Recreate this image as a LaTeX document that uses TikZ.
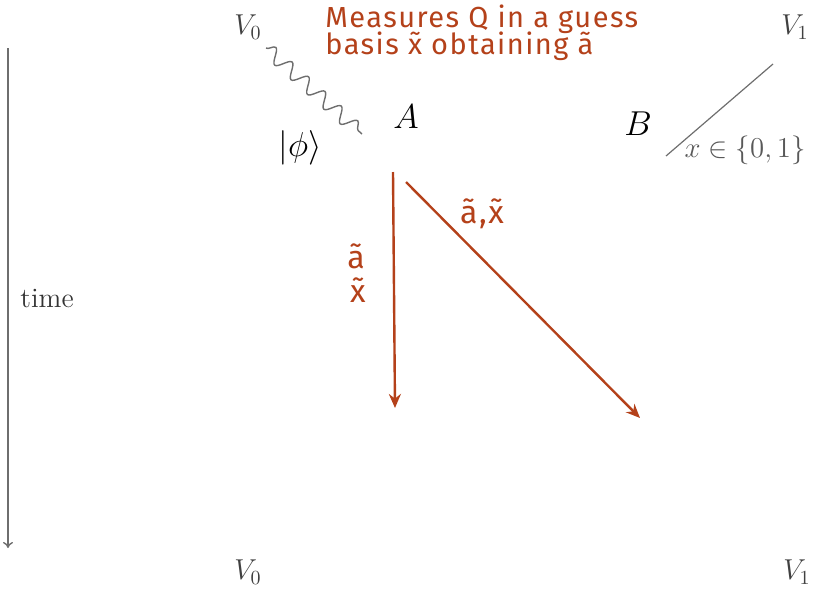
\documentclass[tikz,border=0pt]{standalone}
\usepackage{fontspec}
\newfontfamily\hand[LetterSpace=5]{Fira Sans}
\usetikzlibrary{arrows.meta,decorations.pathmorphing}
\definecolor{rust}{HTML}{B4411A}
\definecolor{gline}{HTML}{6E6E6E}
\begin{document}
\begin{tikzpicture}[x=0.5pt,y=-0.5pt,
  lbl/.style={inner sep=0pt,font=\fontsize{14}{16}\selectfont},
  big/.style={inner sep=0pt,font=\fontsize{17}{19}\selectfont},
  hw/.style={inner sep=0pt,text=rust,font=\hand\fontsize{14.5}{13}\selectfont},
  redarrow/.style={draw=rust,line width=1.2pt,-{Stealth[length=7pt,width=6pt]}},
  grayline/.style={draw=gline,line width=0.5pt}]
\useasboundingbox (0,0) rectangle (820,590);
% time axis
\coordinate (t0) at (8,48);
\coordinate (t1) at (8,548);
\draw[gline,line width=0.7pt,-{To[length=3pt,width=5pt]}] (t0) -- (t1);
\node[lbl,anchor=west,text=black!80] (time) at (20,298) {time};
% vertices
\node[lbl,text=black!75] (v0t) at (248,27) {$V_0$};
\node[lbl,text=black!75] (v1t) at (795,27) {$V_1$};
\node[lbl,text=black!75] (v0b) at (248,572) {$V_0$};
\node[lbl,text=black!75] (v1b) at (797,572) {$V_1$};
% parties
\node[big] (A) at (406,117) {$A$};
\node[big] (B) at (638,124) {$B$};
\node[big] (phi) at (300,148) {$|\phi\rangle$};
% wavy photon
\coordinate (w0) at (266,48);
\coordinate (w1) at (362,134);
\draw[grayline,line width=0.7pt,decorate,decoration={snake,amplitude=3.5pt,segment length=11pt}] (w0) -- (w1);
% classical input line
\coordinate (b0) at (666,156);
\coordinate (b1) at (773,64);
\draw[grayline,line width=0.6pt] (b0) -- (b1);
\node[lbl,text=black!65,font=\fontsize{14.5}{16}\selectfont] (xin) at (745,150) {$x\in\{0,1\}$};
% title
\node[hw,anchor=west] (title1) at (325,19) {Measures Q in a guess};
\node[hw,anchor=west] (title2) at (325,46) {basis x̃ obtaining ã};
% red arrows
\coordinate (s1) at (393,172);
\coordinate (e1) at (395,408);
\coordinate (s2) at (406,182);
\coordinate (e2) at (640,418);
\draw[redarrow] (s1) -- (e1);
\draw[redarrow] (s2) -- (e2);
\node[hw,font=\hand\fontsize{16}{16}\selectfont] (la) at (356,256) {ã};
\node[hw,font=\hand\fontsize{16}{16}\selectfont] (lx) at (358,290) {x̃};
\node[hw,font=\hand\fontsize{16}{16}\selectfont] (lax) at (482,214) {ã,x̃};
\end{tikzpicture}
\end{document}
